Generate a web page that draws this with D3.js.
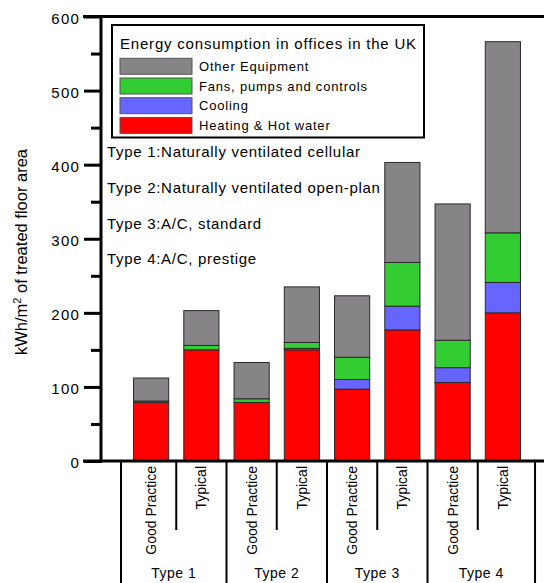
<!DOCTYPE html>
<html>
<head>
<meta charset="utf-8">
<script src="https://cdn.jsdelivr.net/npm/d3@7"></script>
<style>
  html, body { margin: 0; padding: 0; background: #fff; }
  svg { display: block; font-family: "Liberation Sans", Arial, sans-serif; }
</style>
</head>
<body>
<svg id="chart" width="544" height="583"></svg>
<script>
// ---- data ----
const types = ["Type 1", "Type 2", "Type 3", "Type 4"];
const practices = ["Good Practice", "Typical"];
const seriesNames = ["Heating & Hot water", "Cooling", "Fans, pumps and controls", "Other Equipment"];
const seriesColors = ["#ff0000", "#6666ff", "#33cc33", "#868486"];
const heating = [79, 150, 79, 150, 97, 177, 106, 200];
const cooling = [0, 0, 0, 2, 13, 32, 20, 41];
const fans = [2, 6, 5, 8, 30, 59, 37, 67];
const other = [31, 47, 49, 75, 83, 135, 184, 258];
const yTicks = [0, 100, 200, 300, 400, 500, 600];
const yMinorTicks = [50, 150, 250, 350, 450, 550];
const legendTitle = "Energy consumption in offices in the UK";
const typeNotes = [
  "Type 1:Naturally ventilated cellular",
  "Type 2:Naturally ventilated open-plan",
  "Type 3:A/C, standard",
  "Type 4:A/C, prestige"
];
const yTitle = "kWh/m";

// ---- build table ----
const rows = [];
types.forEach((t, ti) => practices.forEach((p, pi) => {
  const i = ti * 2 + pi;
  rows.push({ key: t + "|" + p, type: t, practice: p,
    "Heating & Hot water": heating[i], "Cooling": cooling[i],
    "Fans, pumps and controls": fans[i], "Other Equipment": other[i] });
}));

const svg = d3.select("#chart");
const font = '"Liberation Sans", Arial, sans-serif';

const x = d3.scaleBand().domain(rows.map(d => d.key))
  .range([126, 528]).paddingInner(0.3).paddingOuter(0.15);
const y = d3.scaleLinear().domain([0, 600]).range([461, 16.5]);
const color = d3.scaleOrdinal().domain(seriesNames).range(seriesColors);
const axisX = 101;

// ---- bars ----
const stack = d3.stack().keys(seriesNames)(rows);
svg.append("g").selectAll("g").data(stack).join("g")
  .attr("fill", s => color(s.key))
  .selectAll("rect").data(s => s.filter(d => d[1] - d[0] > 0)).join("rect")
  .attr("x", d => x(d.data.key))
  .attr("width", x.bandwidth())
  .attr("y", d => y(d[1]))
  .attr("height", d => y(d[0]) - y(d[1]))
  .attr("stroke", "#2a2a2a").attr("stroke-width", 1);

// ---- y axis ----
const gy = svg.append("g").attr("transform", `translate(${axisX},0)`);
gy.call(d3.axisLeft(y).tickValues(yTicks).tickSize(17).tickPadding(4).tickFormat(d3.format("d")));
gy.select(".domain").remove();
gy.selectAll(".tick line").attr("stroke", "#000").attr("stroke-width", 3);
gy.selectAll(".tick text").attr("font-family", font).attr("font-size", 15)
  .attr("letter-spacing", 1.2).attr("fill", "#000").attr("dy", "0.45em");
const gym = svg.append("g").attr("transform", `translate(${axisX},0)`);
gym.call(d3.axisLeft(y).tickValues(yMinorTicks).tickSize(10).tickFormat(""));
gym.select(".domain").remove();
gym.selectAll(".tick line").attr("stroke", "#000").attr("stroke-width", 3);

// frame lines
svg.append("line").attr("x1", axisX).attr("x2", axisX).attr("y1", y(600) - 1.5).attr("y2", y(0) + 1.5)
  .attr("stroke", "#000").attr("stroke-width", 3);
svg.append("line").attr("x1", 83).attr("x2", 544).attr("y1", y(600)).attr("y2", y(600))
  .attr("stroke", "#000").attr("stroke-width", 3);
svg.append("line").attr("x1", 83).attr("x2", 544).attr("y1", y(0)).attr("y2", y(0))
  .attr("stroke", "#000").attr("stroke-width", 3);

// y title
svg.append("text")
  .attr("transform", `translate(27,${252}) rotate(-90)`)
  .attr("text-anchor", "middle").attr("font-family", font).attr("font-size", 16.5)
  .attr("fill", "#000")
  .call(t => {
    t.append("tspan").text(yTitle);
    t.append("tspan").text("2").attr("font-size", 11).attr("dy", -6);
    t.append("tspan").text(" of treated floor area").attr("dy", 6);
  });

// ---- category axis ----
const step = x.step();
const centers = rows.map(d => x(d.key) + x.bandwidth() / 2);
const gx = svg.append("g");
types.forEach((t, ti) => {
  const xm = (centers[ti * 2] + centers[ti * 2 + 1]) / 2;
  gx.append("line").attr("x1", xm).attr("x2", xm).attr("y1", y(0)).attr("y2", 530)
    .attr("stroke", "#000").attr("stroke-width", 2);
});
const longX = [centers[0] - step * 0.6];
for (let ti = 0; ti < types.length - 1; ti++) longX.push((centers[ti * 2 + 1] + centers[ti * 2 + 2]) / 2);
longX.push(centers[centers.length - 1] + step * 0.64);
longX.forEach(xv => gx.append("line").attr("x1", xv).attr("x2", xv).attr("y1", y(0)).attr("y2", 583)
  .attr("stroke", "#000").attr("stroke-width", 2));
rows.forEach((d, i) => {
  gx.append("text")
    .attr("transform", `translate(${centers[i] + 5},466) rotate(-90)`)
    .attr("text-anchor", "end").attr("font-family", font).attr("font-size", 14)
    .attr("fill", "#000").text(d.practice);
});
types.forEach((t, ti) => {
  gx.append("text").attr("x", (longX[ti] + longX[ti + 1]) / 2).attr("y", 578)
    .attr("text-anchor", "middle").attr("font-family", font).attr("font-size", 14)
    .attr("letter-spacing", 0.5).attr("fill", "#000").text(t);
});

// ---- legend ----
const lg = svg.append("g");
lg.append("rect").attr("x", 112).attr("y", 25).attr("width", 312).attr("height", 112.5)
  .attr("fill", "#fff").attr("stroke", "#000").attr("stroke-width", 2);
lg.append("text").attr("x", 120).attr("y", 48.5).attr("font-family", font).attr("font-size", 15)
  .attr("letter-spacing", 0.8).attr("fill", "#000").text(legendTitle);
const legendOrder = seriesNames.slice().reverse();
legendOrder.forEach((s, i) => {
  const yy = 58.3 + i * 19.7;
  lg.append("rect").attr("x", 120).attr("y", yy).attr("width", 72).attr("height", 16)
    .attr("fill", color(s)).attr("stroke", "#555").attr("stroke-width", 1);
  lg.append("text").attr("x", 199).attr("y", yy + 12.5).attr("font-family", font)
    .attr("font-size", 13).attr("letter-spacing", 0.8).attr("fill", "#000").text(s);
});

// ---- type notes ----
typeNotes.forEach((n, i) => {
  svg.append("text").attr("x", 107).attr("y", 157 + i * 35.8).attr("font-family", font)
    .attr("font-size", 15).attr("letter-spacing", 0.7).attr("fill", "#000").text(n);
});
</script>
</body>
</html>
